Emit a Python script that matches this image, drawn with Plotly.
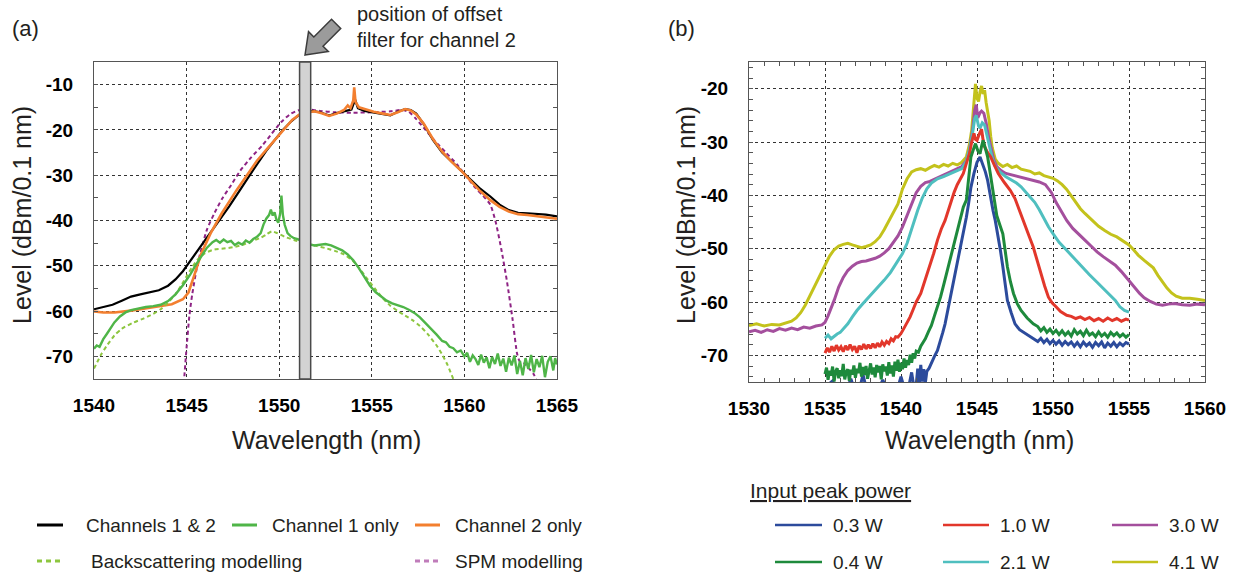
import math
import plotly.graph_objects as go

# ---------------- Panel (a) data ----------------
ch12_wl = [1540, 1540.5, 1541, 1541.5, 1542, 1542.5, 1543, 1543.5, 1544, 1544.4, 1544.8, 1545.2, 1545.6, 1546.0,
           1546.4, 1546.8, 1547.3, 1547.8, 1548.3, 1548.8, 1549.3, 1549.8, 1550.2, 1550.6, 1551.0, 1551.4, 1551.8,
           1552.2, 1552.7, 1553.1, 1553.6, 1553.9, 1554.1, 1554.25, 1554.6, 1555.0, 1555.6, 1556.0, 1556.4, 1556.8,
           1557.1, 1557.4, 1557.8, 1558.3, 1558.8, 1559.3, 1559.8, 1560.3, 1560.8, 1561.4, 1561.9, 1562.4, 1562.9,
           1563.4, 1563.9, 1564.4, 1565]
ch12_lv = [-59.6, -59.1, -58.6, -57.7, -56.8, -56.3, -55.9, -55.4, -54.4, -53.0, -51.2, -48.9, -46.6, -44.3,
           -42.0, -39.9, -36.9, -33.8, -30.6, -27.6, -24.6, -22.0, -20.0, -18.3, -16.9, -16.1, -15.8,
           -16.1, -16.8, -16.3, -15.8, -15.5, -13.3, -15.2, -15.8, -16.1, -16.5, -16.8, -16.0, -15.4,
           -15.6, -16.4, -18.7, -22.2, -25.0, -27.0, -28.9, -30.9, -32.8, -34.7, -36.5, -37.7, -38.3,
           -38.4, -38.5, -38.7, -39.1]

ch1_wl = [1540.0, 1540.15, 1540.3, 1540.5, 1540.7, 1540.9, 1541.1, 1541.4, 1541.7, 1542.0, 1542.4, 1542.8, 1543.2,
          1543.6, 1544.0, 1544.4, 1544.8, 1545.2, 1545.5, 1545.8, 1546.1, 1546.4, 1546.6, 1546.8, 1547.0, 1547.2,
          1547.4, 1547.6, 1547.8, 1548.0, 1548.2, 1548.4, 1548.6, 1548.8, 1549.0, 1549.15, 1549.3, 1549.45,
          1549.55, 1549.65, 1549.75, 1549.85, 1549.95, 1550.05, 1550.12, 1550.2, 1550.3, 1550.45, 1550.6, 1550.8,
          1551.0, 1551.3, 1551.6, 1551.9, 1552.2, 1552.5, 1552.8, 1553.1, 1553.4, 1553.7, 1554.0, 1554.3, 1554.6,
          1554.9, 1555.2, 1555.5, 1555.8, 1556.1, 1556.4, 1556.7, 1557.0, 1557.3, 1557.6, 1557.9, 1558.2, 1558.5,
          1558.8, 1559.0, 1559.2, 1559.4, 1559.6, 1559.8, 1560.0, 1560.15, 1560.3, 1560.45, 1560.6, 1560.75,
          1560.9, 1561.05, 1561.2, 1561.35, 1561.5, 1561.65, 1561.8, 1561.95, 1562.1, 1562.25, 1562.4, 1562.55,
          1562.7, 1562.85, 1563.0, 1563.15, 1563.3, 1563.45, 1563.6, 1563.75, 1563.9, 1564.05, 1564.2, 1564.35,
          1564.5, 1564.65, 1564.8, 1564.9, 1565.0]
ch1_lv = [-68.3, -67.6, -67.9, -66.2, -65.0, -63.6, -62.5, -61.2, -60.3, -59.8, -59.4, -59.1, -58.9,
          -58.6, -57.8, -56.3, -54.3, -51.9, -49.8, -47.9, -46.0, -44.8, -44.3, -44.9, -44.2, -44.8,
          -44.5, -45.4, -44.9, -45.3, -44.4, -44.9, -44.1, -43.6, -42.8, -40.9, -39.6, -38.8,
          -37.6, -38.9, -38.2, -39.8, -40.5, -38.5, -34.5, -38.8, -41.0, -42.8, -43.4, -43.9,
          -44.1, -44.7, -45.2, -45.5, -45.3, -45.2, -45.5, -46.0, -46.6, -47.5, -48.8, -50.5, -52.4,
          -54.4, -55.8, -56.8, -57.7, -58.3, -58.7, -59.1, -59.7, -60.4, -61.4, -62.6, -64.0, -65.2,
          -66.6, -66.9, -67.9, -68.2, -69.1, -68.7, -70.0, -69.2, -71.2, -69.8, -70.6, -71.9,
          -69.6, -71.4, -70.2, -72.6, -70.1, -71.7, -69.4, -72.1, -70.5, -73.4, -70.3, -72.0,
          -69.8, -73.9, -71.0, -74.2, -70.4, -72.8, -69.7, -73.5, -70.6, -72.4, -69.9, -74.6,
          -71.2, -70.0, -73.1, -70.4, -71.8]

ch2_wl = [1540, 1540.5, 1541.1, 1542, 1543.1, 1544.2, 1544.8, 1545.1, 1545.4, 1545.8, 1546.3, 1546.9, 1547.7,
          1548.3, 1548.8, 1549.3, 1549.8, 1550.3, 1550.7, 1551.1, 1551.5, 1551.9, 1552.3, 1552.7, 1553.1, 1553.5,
          1553.7, 1553.85, 1554.0, 1554.05, 1554.12, 1554.3, 1554.7, 1555.1, 1555.6, 1556.0, 1556.4, 1556.8,
          1557.1, 1557.4, 1557.8, 1558.3, 1558.8, 1559.3, 1559.8, 1560.3, 1560.8, 1561.4, 1561.9, 1562.4, 1562.9,
          1563.4, 1563.9, 1564.4, 1565]
ch2_lv = [-60.1, -60.3, -60.3, -59.9, -59.2, -58.5, -57.4, -55.9, -52.3, -47.2, -42.8, -38.4, -33.3,
          -29.6, -26.8, -24.4, -22.0, -19.5, -17.8, -16.6, -16.1, -15.9, -16.3, -16.9, -16.4, -15.6,
          -14.6, -15.2, -13.5, -10.6, -13.8, -15.0, -15.5, -16.0, -16.4, -16.7, -16.1, -15.4,
          -15.7, -16.6, -18.6, -22.0, -24.8, -27.0, -28.9, -31.0, -33.3, -35.5, -37.0, -38.0, -38.6,
          -38.8, -39.0, -39.3, -39.6]

bs_wl = [1540, 1540.4, 1540.7, 1541.1, 1541.5, 1542.1, 1542.7, 1543.2, 1543.6, 1544.0, 1544.4, 1544.7, 1545.0,
         1545.3, 1545.6, 1546.0, 1546.5, 1547.0, 1547.5, 1548.0, 1548.5, 1549.0, 1549.3, 1549.6, 1549.9, 1550.3,
         1550.8, 1551.4, 1552.0, 1552.5, 1553.0, 1553.5, 1554.0, 1554.3, 1554.7, 1555.2, 1555.6, 1556.0, 1556.4,
         1556.8, 1557.2, 1557.6, 1558.0, 1558.5, 1558.8, 1559.1, 1559.4, 1559.5]
bs_lv = [-72.7, -69.5, -67.6, -65.4, -63.9, -62.6, -61.6, -60.6, -59.6, -58.1, -56.3, -54.4, -52.3,
         -50.3, -48.6, -47.2, -46.4, -46.2, -45.9, -45.4, -44.6, -43.8, -43.1, -42.4, -42.8, -43.6,
         -44.3, -45.0, -45.6, -46.1, -46.7, -47.5, -49.0, -50.4, -52.6, -55.2, -57.2, -58.8, -60.0,
         -61.0, -62.0, -63.3, -65.0, -67.6, -69.6, -72.0, -75.0, -76.0]

spm_wl = [1544.85, 1545.0, 1545.15, 1545.3, 1545.6, 1546.1, 1546.5, 1546.9, 1547.4, 1547.9, 1548.5, 1549.1,
          1549.6, 1550.1, 1550.6, 1551.1, 1551.6, 1552.2, 1553.0, 1554.0, 1555.0, 1556.0, 1556.6, 1557.0,
          1557.4, 1557.9, 1558.4, 1559.0, 1559.6, 1560.1, 1560.6, 1561.0, 1561.4, 1561.7, 1562.0, 1562.3,
          1562.6, 1562.85, 1563.0, 1563.25, 1563.5, 1563.75, 1563.95]
spm_lv = [-76, -68, -61, -56.4, -49.5, -42.0, -38.4, -35.3, -32.2, -29.0, -26.0, -23.4,
          -20.8, -18.3, -16.5, -15.6, -15.5, -15.8, -16.1, -16.2, -16.1, -15.9, -15.6, -16.0,
          -17.6, -20.0, -22.4, -25.0, -27.6, -30.3, -32.8, -34.5, -36.5, -40.5, -46.5, -53.5,
          -61.8, -69.5, -71.2, -71.6, -72.7, -74.0, -76]

filter_band = [1551.1, 1551.7]

# ---------------- Panel (b) data ----------------
p41_wl = [1530, 1530.5, 1531, 1531.5, 1532, 1532.5, 1532.8, 1533.1, 1533.4, 1533.7, 1534.0, 1534.3, 1534.6,
          1535.0, 1535.3, 1535.6, 1535.9, 1536.2, 1536.5, 1536.8, 1537.1, 1537.4, 1537.7, 1538.0, 1538.3,
          1538.6, 1538.9, 1539.2, 1539.5, 1539.8, 1540.1, 1540.4, 1540.7, 1541.0, 1541.3, 1541.6, 1541.9,
          1542.2, 1542.5, 1542.8, 1543.1, 1543.4, 1543.7, 1544.0, 1544.3, 1544.5, 1544.65, 1544.8, 1544.9,
          1545.0, 1545.1, 1545.2, 1545.3, 1545.4, 1545.5, 1545.6, 1545.7, 1545.8, 1545.9, 1546.0, 1546.2,
          1546.4, 1546.7, 1547.0, 1547.3, 1547.6, 1547.9, 1548.2, 1548.5, 1548.8, 1549.1, 1549.4, 1549.7,
          1550.0, 1550.3, 1550.6, 1550.9, 1551.2, 1551.5, 1551.8, 1552.1, 1552.4, 1552.7, 1553.0, 1553.4,
          1553.8, 1554.2, 1554.6, 1555.0, 1555.3, 1555.6, 1556.0, 1556.3, 1556.6, 1556.9, 1557.2, 1557.5,
          1557.8, 1558.1, 1558.5, 1559.0, 1559.5, 1560.0]
p41_lv = [-64.4, -64.1, -64.5, -64.2, -64.3, -63.9, -63.6, -63.0, -62.0, -60.6, -58.9, -57.2, -55.5,
          -53.1, -51.4, -50.2, -49.5, -49.2, -49.0, -49.3, -49.6, -49.8, -49.6, -49.3, -48.7,
          -47.8, -46.4, -44.8, -43.2, -41.6, -38.8, -36.9, -35.6, -35.2, -35.0, -35.3, -34.8,
          -34.4, -34.7, -34.2, -34.5, -34.0, -34.3, -33.8, -32.8, -30.5, -27.8, -22.5, -19.1,
          -21.8, -22.4, -20.6, -19.5, -21.0, -20.3, -22.6, -24.5, -26.0, -28.9, -31.0, -33.2,
          -34.0, -34.6, -34.2, -34.8, -34.5, -35.1, -35.3, -35.5, -36.0, -35.8, -36.3, -36.6,
          -36.8, -37.3, -38.0, -38.9, -40.1, -41.3, -42.5, -43.4, -44.2, -45.0, -45.8, -46.6,
          -47.3, -47.8, -48.5, -49.3, -50.2, -51.2, -52.2, -52.9, -53.6, -55.0, -56.3, -57.4,
          -58.3, -58.9, -59.3, -59.3, -59.5, -59.7]

p30_wl = [1530, 1530.4, 1530.8, 1531.2, 1531.6, 1532.0, 1532.4, 1532.8, 1533.2, 1533.6, 1534.0, 1534.4, 1534.8,
          1535.0, 1535.2, 1535.4, 1535.6, 1535.9, 1536.2, 1536.5, 1536.8, 1537.1, 1537.4, 1537.7, 1538.0,
          1538.3, 1538.6, 1538.9, 1539.2, 1539.5, 1539.8, 1540.1, 1540.4, 1540.7, 1541.0, 1541.3, 1541.6,
          1541.9, 1542.2, 1542.5, 1542.8, 1543.1, 1543.4, 1543.7, 1544.0, 1544.3, 1544.5, 1544.7, 1544.85,
          1544.95, 1545.05, 1545.2, 1545.3, 1545.45, 1545.6, 1545.75, 1545.9, 1546.1, 1546.3, 1546.6, 1546.9,
          1547.2, 1547.5, 1547.9, 1548.3, 1548.7, 1549.1, 1549.5, 1549.9, 1550.2, 1550.6, 1550.9, 1551.3,
          1551.7, 1552.1, 1552.5, 1552.9, 1553.3, 1553.7, 1554.1, 1554.5, 1554.8, 1555.1, 1555.4, 1555.7,
          1556.0, 1556.4, 1556.8, 1557.2, 1557.6, 1558.0, 1558.5, 1559.0, 1559.5, 1560.0]
p30_lv = [-65.6, -65.3, -65.7, -65.2, -65.5, -65.0, -65.3, -64.9, -65.2, -64.7, -64.9, -64.5, -64.3,
          -63.8, -62.6, -61.3, -59.7, -57.2, -55.4, -54.1, -53.3, -52.7, -52.4, -52.3, -52.1,
          -51.8, -51.4, -50.8, -50.0, -48.8, -47.6, -45.9, -43.8, -41.5, -39.5, -38.3, -37.6,
          -37.4, -37.0, -36.6, -36.2, -35.7, -35.3, -35.0, -34.6, -33.5, -31.5, -28.0, -24.0,
          -23.0, -25.5, -24.5, -24.2, -24.6, -26.4, -28.9, -31.0, -33.3, -34.6, -35.4, -35.9,
          -36.1, -36.4, -36.6, -36.9, -37.1, -37.5, -38.0, -39.5, -41.3, -43.3, -44.7, -46.2,
          -47.4, -48.4, -49.5, -50.6, -51.5, -52.3, -53.1, -54.3, -55.3, -56.5, -57.4, -58.4,
          -59.2, -59.9, -60.4, -60.6, -60.4, -60.3, -60.5, -60.6, -60.4, -60.5]

p21_wl = [1535.0, 1535.2, 1535.4, 1535.6, 1535.8, 1536.0, 1536.2, 1536.5, 1536.8, 1537.1, 1537.5, 1537.9, 1538.4,
          1538.9, 1539.3, 1539.6, 1539.9, 1540.1, 1540.4, 1540.6, 1540.9, 1541.1, 1541.4, 1541.7, 1542.0,
          1542.4, 1542.8, 1543.2, 1543.6, 1544.0, 1544.3, 1544.5, 1544.7, 1544.85, 1544.95, 1545.1, 1545.2,
          1545.35, 1545.5, 1545.65, 1545.8, 1546.0, 1546.2, 1546.5, 1546.9, 1547.3, 1547.6, 1547.9, 1548.2,
          1548.5, 1548.8, 1549.1, 1549.4, 1549.7, 1550.0, 1550.4, 1550.9, 1551.4, 1551.9, 1552.4, 1552.9,
          1553.3, 1553.7, 1554.1, 1554.4, 1554.7, 1555.0]
p21_lv = [-66.8, -66.2, -66.9, -66.4, -66.0, -65.7, -65.0, -64.1, -62.8, -61.6, -60.3, -59.1, -57.6,
          -55.9, -54.5, -53.1, -51.8, -50.9, -49.0, -47.2, -44.9, -42.8, -40.5, -38.8, -37.7,
          -36.9, -36.5, -36.0, -35.6, -35.0, -33.6, -31.5, -28.5, -25.6, -25.0, -27.0, -27.4,
          -26.4, -26.8, -28.8, -30.9, -33.0, -34.6, -35.6, -36.5, -37.1, -37.7, -38.4, -39.3,
          -40.2, -41.3, -42.7, -44.4, -45.9, -47.2, -48.8, -50.3, -51.9, -53.4, -54.9, -56.3,
          -57.4, -58.5, -59.7, -60.9, -61.6, -61.9]

p10_wl = [1535.0, 1535.15, 1535.3, 1535.45, 1535.6, 1535.75, 1535.9, 1536.05, 1536.2, 1536.35, 1536.5, 1536.65,
          1536.8, 1536.95, 1537.1, 1537.25, 1537.4, 1537.55, 1537.7, 1537.85, 1538.0, 1538.15, 1538.3, 1538.45,
          1538.6, 1538.75, 1538.9, 1539.05, 1539.2, 1539.35, 1539.5, 1539.65, 1539.8, 1540.0, 1540.2, 1540.4,
          1540.6, 1540.8, 1541.0, 1541.3, 1541.6, 1541.9, 1542.15, 1542.4, 1542.65, 1542.9, 1543.1, 1543.3,
          1543.5, 1543.7, 1543.9, 1544.1, 1544.3, 1544.5, 1544.65, 1544.8, 1544.9, 1545.0, 1545.15, 1545.3,
          1545.4, 1545.5, 1545.7, 1545.9, 1546.15, 1546.4, 1546.8, 1547.2, 1547.5, 1547.7, 1547.95, 1548.2,
          1548.45, 1548.7, 1548.95, 1549.2, 1549.45, 1549.7, 1549.95, 1550.2, 1550.5, 1550.9, 1551.2, 1551.5,
          1551.8, 1552.1, 1552.4, 1552.7, 1553.0, 1553.3, 1553.6, 1553.9, 1554.2, 1554.5, 1554.8, 1555.0]
p10_lv = [-69.6, -68.6, -69.4, -68.3, -69.2, -68.1, -69.0, -68.4, -69.3, -68.2, -69.0, -68.0,
          -68.9, -68.3, -69.5, -68.2, -68.9, -67.9, -68.8, -68.0, -68.7, -67.8, -68.6, -67.7,
          -68.4, -67.5, -68.1, -67.4, -67.8, -66.9, -67.3, -66.5, -66.6, -65.9, -64.9, -63.9,
          -62.8, -61.4, -60.0, -58.4, -55.9, -53.4, -50.9, -48.4, -46.3, -44.7, -42.8, -41.0,
          -39.4, -38.0, -36.9, -35.9, -34.0, -32.2, -30.0, -28.4, -29.5, -29.7, -28.5, -27.6,
          -29.6, -30.9, -32.0, -32.8, -34.4, -35.9, -37.6, -39.1, -40.6, -42.2, -44.0, -45.9,
          -47.8, -49.7, -52.2, -54.7, -57.0, -59.1, -60.2, -60.9, -61.8, -62.5, -62.7, -63.1,
          -62.8, -63.3, -62.9, -63.5, -63.1, -63.6, -63.0, -63.5, -63.1, -63.6, -63.2, -63.4]

p04_wl = [1535.0, 1535.1, 1535.2, 1535.3, 1535.4, 1535.5, 1535.6, 1535.7, 1535.8, 1535.9, 1536.0, 1536.1, 1536.2,
          1536.3, 1536.4, 1536.5, 1536.6, 1536.7, 1536.8, 1536.9, 1537.0, 1537.1, 1537.2, 1537.3, 1537.4,
          1537.5, 1537.6, 1537.7, 1537.8, 1537.9, 1538.0, 1538.1, 1538.2, 1538.3, 1538.4, 1538.5, 1538.6,
          1538.7, 1538.8, 1538.9, 1539.0, 1539.1, 1539.2, 1539.3, 1539.4, 1539.5, 1539.6, 1539.7, 1539.8,
          1539.9, 1540.0, 1540.1, 1540.2, 1540.3, 1540.4, 1540.5, 1540.6, 1540.7, 1540.8, 1540.9, 1541.0,
          1541.15, 1541.3, 1541.45, 1541.6, 1541.8, 1542.0, 1542.2, 1542.4, 1542.6, 1542.85, 1543.1, 1543.35,
          1543.6, 1543.85, 1544.1, 1544.3, 1544.45, 1544.6, 1544.75, 1544.9, 1545.05, 1545.2, 1545.3, 1545.4,
          1545.55, 1545.7, 1545.85, 1546.0, 1546.15, 1546.3, 1546.5, 1546.7, 1546.85, 1547.0, 1547.2, 1547.4,
          1547.65, 1547.9, 1548.3, 1548.7, 1549.0, 1549.2, 1549.4, 1549.6, 1549.8, 1550.0, 1550.2, 1550.4,
          1550.6, 1550.8, 1551.0, 1551.2, 1551.4, 1551.6, 1551.8, 1552.0, 1552.2, 1552.4, 1552.6, 1552.8,
          1553.0, 1553.2, 1553.4, 1553.6, 1553.8, 1554.0, 1554.2, 1554.4, 1554.6, 1554.8, 1555.0]
p04_lv = [-73.5, -72.3, -74.6, -72.9, -73.8, -72.1, -74.9, -73.0, -72.4, -74.3, -72.8, -73.9, -71.6,
          -74.5, -73.1, -72.6, -74.8, -72.7, -73.6, -71.9, -74.2, -72.5, -73.3, -71.4, -74.0,
          -72.2, -73.7, -72.0, -74.4, -72.8, -71.5, -73.6, -72.3, -74.1, -71.8, -73.2, -72.0,
          -74.5, -71.7, -73.0, -72.1, -73.8, -71.3, -73.4, -71.9, -74.0, -71.2, -72.9, -70.8,
          -73.1, -71.4, -72.6, -70.6, -72.3, -70.9, -71.8, -69.9, -71.4, -69.6, -70.6, -69.2,
          -69.4, -68.3, -67.6, -66.9, -65.6, -64.4, -62.6, -60.8, -59.1, -56.3, -53.4, -50.6,
          -47.8, -44.6, -42.2, -40.9, -36.5, -32.8, -31.5, -30.3, -31.6, -32.2, -30.8, -29.7,
          -31.2, -32.8, -35.5, -38.4, -41.2, -43.8, -45.5, -47.2, -50.3, -53.4, -56.2, -58.4,
          -60.3, -61.6, -63.0, -64.1, -64.6, -65.4, -64.8, -65.7, -65.1, -65.9, -65.3, -66.1,
          -65.4, -66.2, -65.6, -66.4, -65.2, -66.0, -65.5, -66.3, -65.3, -66.2, -65.8, -66.5,
          -65.6, -66.4, -65.9, -66.6, -65.7, -66.3, -65.8, -66.5, -66.0, -66.6, -66.1]

p03_wl = [1535.0, 1535.5, 1535.7, 1536.5, 1536.7, 1536.9, 1537.3, 1537.5, 1537.7, 1538.6, 1538.8, 1539.0,
          1539.8, 1540.0, 1540.2, 1540.5, 1540.7, 1540.85, 1541.0, 1541.1, 1541.2, 1541.3, 1541.4, 1541.5,
          1541.6, 1541.7, 1541.85, 1542.0, 1542.2, 1542.4, 1542.6, 1542.75, 1542.9, 1543.15, 1543.4, 1543.65,
          1543.9, 1544.1, 1544.3, 1544.45, 1544.6, 1544.8, 1545.0, 1545.2, 1545.3, 1545.4, 1545.55, 1545.7,
          1545.9, 1546.05, 1546.2, 1546.4, 1546.55, 1546.7, 1546.85, 1547.0, 1547.25, 1547.5, 1547.8, 1548.2,
          1548.5, 1548.8, 1549.0, 1549.2, 1549.4, 1549.6, 1549.8, 1550.0, 1550.2, 1550.4, 1550.6, 1550.8,
          1551.0, 1551.2, 1551.4, 1551.6, 1551.8, 1552.0, 1552.2, 1552.4, 1552.6, 1552.8, 1553.0, 1553.2,
          1553.4, 1553.6, 1553.8, 1554.0, 1554.2, 1554.4, 1554.6, 1554.8, 1555.0]
p03_lv = [-76, -74.8, -76, -76, -74.4, -76, -76, -73.6, -76, -76, -74.6, -76,
          -76, -74.0, -76, -76, -73.2, -76, -75.5, -72.5, -75.8, -71.8, -74.9, -72.6,
          -75.2, -73.0, -72.4, -71.3, -70.2, -69.1, -67.3, -65.7, -64.1, -60.6, -57.2, -53.7,
          -50.3, -47.2, -44.1, -41.5, -38.5, -35.9, -33.8, -32.8, -33.6, -34.1, -35.6, -37.2,
          -40.9, -42.8, -44.7, -47.6, -50.5, -53.4, -56.6, -59.7, -62.0, -64.1, -65.2, -65.9,
          -66.5, -66.9, -67.4, -66.8, -67.6, -67.0, -67.8, -67.2, -67.9, -67.3, -68.1, -67.4,
          -68.0, -67.5, -68.3, -67.6, -68.4, -67.5, -68.2, -67.7, -68.5, -67.6, -68.2, -67.5,
          -68.6, -67.7, -68.3, -67.6, -68.4, -67.7, -68.2, -67.6, -67.9]

legend_a = ["Channels 1 & 2", "Channel 1 only", "Channel 2 only", "Backscattering modelling", "SPM modelling"]
legend_b = ["0.3 W", "0.4 W", "1.0 W", "2.1 W", "3.0 W", "4.1 W"]
ytick_a = [-70, -60, -50, -40, -30, -20, -10]
ytick_b = [-70, -60, -50, -40, -30, -20]

# ---------------- geometry helpers (pixels -> paper) ----------------
W, H = 1238, 575
L, R, T, B = 94, 33, 62, 193
PW, PH = W - L - R, H - T - B


def fx(px):
    return (px - L) / PW


def fy(py):
    return (H - B - py) / PH


TXT = "#231f20"
FONT = "Liberation Sans, Arial, sans-serif"

C_BLACK = "#000000"
C_CH1 = "#4fb548"
C_CH2 = "#f37f2f"
C_BS = "#8dc63f"
C_SPM = "#8e2384"
C_SPM_LEG = "#c07cba"
C_P = {"0.3 W": "#2c4b9c", "0.4 W": "#1e8a3c", "1.0 W": "#e2372b",
       "2.1 W": "#4fbfbf", "3.0 W": "#a44f9d", "4.1 W": "#c3c21c"}

fig = go.Figure()

# panel (a) traces
fig.add_trace(go.Scatter(x=spm_wl, y=spm_lv, mode="lines", name=legend_a[4],
                         line=dict(color=C_SPM, width=2, dash="4px,3px", shape="spline", smoothing=0.6),
                         xaxis="x", yaxis="y", showlegend=False))
fig.add_trace(go.Scatter(x=ch12_wl, y=ch12_lv, mode="lines", name=legend_a[0],
                         line=dict(color=C_BLACK, width=2.2), xaxis="x", yaxis="y", showlegend=False))
fig.add_trace(go.Scatter(x=ch2_wl, y=ch2_lv, mode="lines", name=legend_a[2],
                         line=dict(color=C_CH2, width=2.6), xaxis="x", yaxis="y", showlegend=False))
fig.add_trace(go.Scatter(x=bs_wl, y=bs_lv, mode="lines", name=legend_a[3],
                         line=dict(color=C_BS, width=2, dash="4px,3px", shape="spline", smoothing=0.6),
                         xaxis="x", yaxis="y", showlegend=False))
fig.add_trace(go.Scatter(x=ch1_wl, y=ch1_lv, mode="lines", name=legend_a[1],
                         line=dict(color=C_CH1, width=2.4), xaxis="x", yaxis="y", showlegend=False))

# panel (b) traces
for name, wl, lv in [("4.1 W", p41_wl, p41_lv), ("3.0 W", p30_wl, p30_lv), ("2.1 W", p21_wl, p21_lv),
                     ("1.0 W", p10_wl, p10_lv), ("0.3 W", p03_wl, p03_lv), ("0.4 W", p04_wl, p04_lv)]:
    fig.add_trace(go.Scatter(x=wl, y=lv, mode="lines", name=name,
                             line=dict(color=C_P[name], width=3), xaxis="x2", yaxis="y2",
                             showlegend=False))

tickfont = dict(family=FONT, size=19, color="#000000", weight="bold")
common_x = dict(showgrid=True, gridcolor="#333333", griddash="dot", gridwidth=1,
                showline=True, linecolor="#555555", linewidth=1, mirror="ticks",
                zeroline=False, tickfont=tickfont, ticklabelstandoff=9,
                ticks="inside", ticklen=0, tickcolor="#555555")
common_y = dict(showgrid=True, gridcolor="#333333", griddash="dot", gridwidth=1,
                showline=True, linecolor="#555555", linewidth=1, mirror="ticks",
                zeroline=False, tickfont=tickfont, ticklabelstandoff=16,
                ticks="inside", ticklen=0, tickcolor="#555555")

fig.update_layout(
    width=W, height=H,
    margin=dict(l=L, r=R, t=T, b=B, autoexpand=False),
    paper_bgcolor="white", plot_bgcolor="white",
    showlegend=False,
    font=dict(family=FONT, color=TXT),
    xaxis=dict(common_x, domain=[0, fx(557)], range=[1540, 1565], tick0=1540, dtick=5, anchor="y"),
    yaxis=dict(common_y, domain=[fy(379), 1], range=[-75, -5], anchor="x",
               tickvals=ytick_a, ticktext=[str(v) for v in ytick_a],
               minor=dict(dtick=5, tick0=-75, ticks="inside", ticklen=4, tickcolor="#555555", showgrid=False)),
    xaxis2=dict(common_x, domain=[fx(749), 1], range=[1530, 1560], tick0=1530, dtick=5, anchor="y2",
                minor=dict(dtick=1, ticks="inside", ticklen=4, tickcolor="#555555", showgrid=False)),
    yaxis2=dict(common_y, domain=[0, 1], range=[-75, -15], anchor="x2",
                tickvals=ytick_b, ticktext=[str(v) for v in ytick_b],
                minor=dict(dtick=2, tick0=-76, ticks="inside", ticklen=4, tickcolor="#555555", showgrid=False)),
)

shapes = []
# offset filter band
shapes.append(dict(type="rect", xref="x", yref="y domain", x0=filter_band[0], x1=filter_band[1], y0=0, y1=1,
                   fillcolor="#d3d3d3", line=dict(color="#4a4a4a", width=1.5), layer="above"))

# arrow (pointing down-left onto the band)
tip = (305.0, 55.0)
u = (-1 / math.sqrt(2), 1 / math.sqrt(2))
n = (1 / math.sqrt(2), 1 / math.sqrt(2))
head_len, head_hw, shaft_hw, total = 19, 14, 6.5, 44
base = (tip[0] - head_len * u[0], tip[1] - head_len * u[1])
tail = (tip[0] - total * u[0], tip[1] - total * u[1])
pts = [tip,
       (base[0] + head_hw * n[0], base[1] + head_hw * n[1]),
       (base[0] + shaft_hw * n[0], base[1] + shaft_hw * n[1]),
       (tail[0] + shaft_hw * n[0], tail[1] + shaft_hw * n[1]),
       (tail[0] - shaft_hw * n[0], tail[1] - shaft_hw * n[1]),
       (base[0] - shaft_hw * n[0], base[1] - shaft_hw * n[1]),
       (base[0] - head_hw * n[0], base[1] - head_hw * n[1])]
path = "M " + " L ".join(f"{fx(p[0]):.5f},{fy(p[1]):.5f}" for p in pts) + " Z"
shapes.append(dict(type="path", xref="paper", yref="paper", path=path,
                   fillcolor="#9b9b9b", line=dict(color="#3c3c3c", width=1.5), layer="above"))


def leg_line(x0, x1, y, color, dash="solid", width=3):
    return dict(type="line", xref="paper", yref="paper", x0=fx(x0), x1=fx(x1), y0=fy(y), y1=fy(y),
                line=dict(color=color, width=width, dash=dash))


# legend (a) swatches
shapes += [leg_line(37, 63, 525, C_BLACK), leg_line(232, 257, 525, C_CH1), leg_line(415, 440, 525, C_CH2),
           leg_line(37, 63, 561, C_BS, dash="5px,4px"), leg_line(415, 440, 561, C_SPM_LEG, dash="5px,4px")]
# legend (b) swatches
leg_b_pos = {"0.3 W": (775, 822, 525), "1.0 W": (943, 989, 525), "3.0 W": (1112, 1158, 525),
             "0.4 W": (775, 822, 562), "2.1 W": (943, 989, 562), "4.1 W": (1112, 1158, 562)}
for name in legend_b:
    x0, x1, y = leg_b_pos[name]
    shapes.append(leg_line(x0, x1, y, C_P[name], width=2.5))

fig.update_layout(shapes=shapes)

annotations = []


def txt(text, px, py, size, xanchor="left", angle=0, align="left"):
    annotations.append(dict(text=text, x=fx(px), y=fy(py), xref="paper", yref="paper", showarrow=False,
                            xanchor=xanchor, yanchor="middle", textangle=angle, align=align,
                            font=dict(family=FONT, size=size, color=TXT)))


txt("(a)", 25, 28, 22, xanchor="center")
txt("(b)", 681, 28, 22, xanchor="center")
txt("position of offset<br>filter for channel 2", 355, 27, 20)
txt("Level (dBm/0.1 nm)", 22, 215, 25, xanchor="center", angle=-90)
txt("Level (dBm/0.1 nm)", 686, 215, 25, xanchor="center", angle=-90)
txt("Wavelength (nm)", 326, 440, 25, xanchor="center")
txt("Wavelength (nm)", 979, 440, 25, xanchor="center")

# legend (a) labels
txt(legend_a[0], 84, 525, 19)
txt(legend_a[1], 270, 525, 19)
txt(legend_a[2], 453, 525, 19)
txt(legend_a[3], 89, 561, 19)
txt(legend_a[4], 453, 561, 19)

# legend (b)
txt("<u>Input peak power</u>", 748, 490, 21)
for name in legend_b:
    x0, x1, y = leg_b_pos[name]
    txt(name, x1 + 9, y, 19)

fig.update_layout(annotations=annotations)

fig.write_html("out.html")
